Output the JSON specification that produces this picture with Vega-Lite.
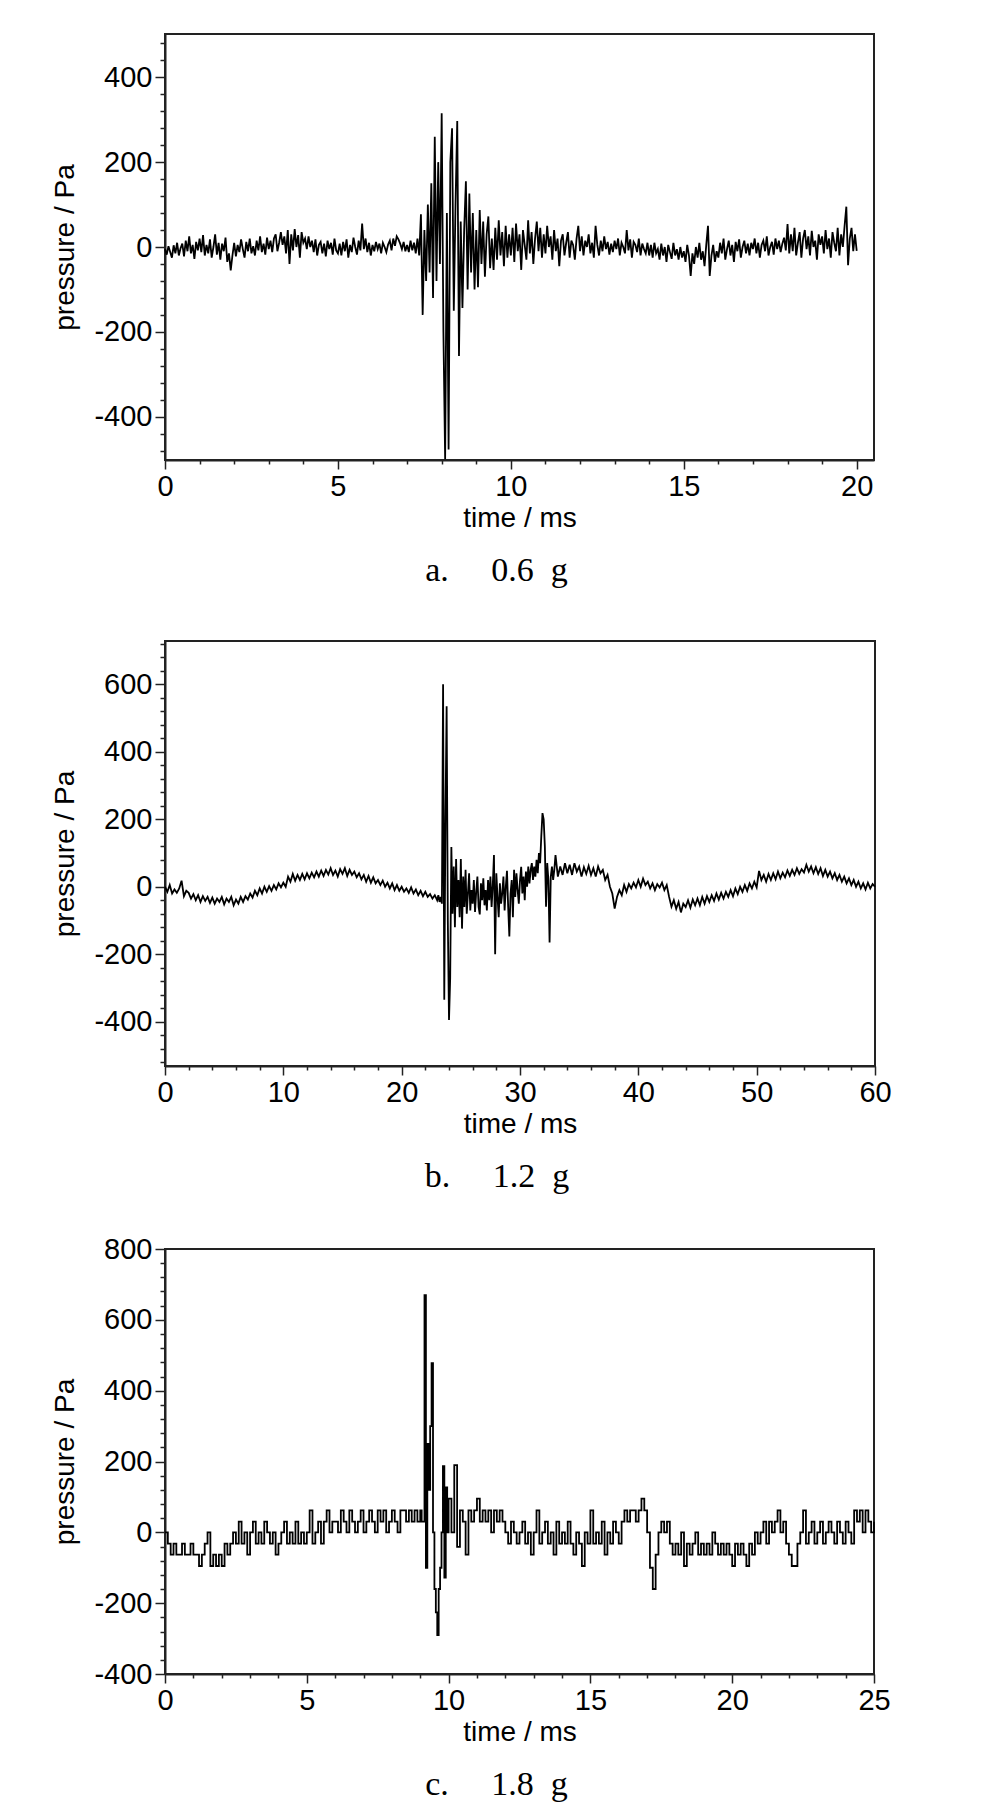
{
  "$schema": "https://vega.github.io/schema/vega-lite/v6.json",
  "background": "white",
  "padding": {"top": 28, "left": 50, "right": 10, "bottom": 10},
  "spacing": 39,
  "config": {
    "view": {"stroke": "#222", "strokeWidth": 2},
    "axis": {
      "grid": false,
      "domainColor": "#222",
      "domainWidth": 2,
      "tickColor": "#222",
      "tickWidth": 1.5,
      "labelFont": "Liberation Sans",
      "labelFontSize": 29,
      "labelColor": "black",
      "labelPadding": 3,
      "labelOverlap": false,
      "labelFlush": false,
      "labelBound": false,
      "titleFont": "Liberation Sans",
      "titleFontSize": 28,
      "titleFontWeight": "normal",
      "titleColor": "black"
    },
    "axisX": {"titlePadding": 3},
    "axisY": {"titlePadding": 14},
    "title": {
      "orient": "bottom",
      "frame": "group",
      "font": "Liberation Serif",
      "fontSize": 34,
      "fontWeight": "normal",
      "color": "black",
      "offset": 22,
      "dx": -23
    },
    "line": {"color": "black", "strokeWidth": 1.8, "clip": true}
  },
  "datasets": {
    "a": [
      {"t":0,"p":-5},{"t":0.05,"p":-18},{"t":0.1,"p":2},{"t":0.15,"p":-12},{"t":0.2,"p":-25},{"t":0.25,"p":4},{"t":0.3,"p":-15},{"t":0.35,"p":10},{"t":0.4,"p":-20},{"t":0.45,"p":-3},{"t":0.5,"p":8},{"t":0.55,"p":-22},{"t":0.6,"p":15},{"t":0.65,"p":-10},{"t":0.7,"p":25},{"t":0.75,"p":-15},{"t":0.8,"p":5},{"t":0.85,"p":-28},{"t":0.9,"p":12},{"t":0.95,"p":-8},
      {"t":1,"p":20},{"t":1.05,"p":-12},{"t":1.1,"p":28},{"t":1.15,"p":-20},{"t":1.2,"p":5},{"t":1.25,"p":-15},{"t":1.3,"p":18},{"t":1.35,"p":-25},{"t":1.4,"p":0},{"t":1.45,"p":30},{"t":1.5,"p":-18},{"t":1.55,"p":10},{"t":1.6,"p":-30},{"t":1.65,"p":8},{"t":1.7,"p":-10},{"t":1.75,"p":22},{"t":1.8,"p":-35},{"t":1.85,"p":-15},{"t":1.9,"p":-55},{"t":1.95,"p":-20},
      {"t":2,"p":10},{"t":2.05,"p":-22},{"t":2.1,"p":5},{"t":2.15,"p":-12},{"t":2.2,"p":18},{"t":2.25,"p":-5},{"t":2.3,"p":-25},{"t":2.35,"p":12},{"t":2.4,"p":-10},{"t":2.45,"p":20},{"t":2.5,"p":-15},{"t":2.55,"p":2},{"t":2.6,"p":-20},{"t":2.65,"p":15},{"t":2.7,"p":-8},{"t":2.75,"p":25},{"t":2.8,"p":-12},{"t":2.85,"p":8},{"t":2.9,"p":-18},{"t":2.95,"p":22},
      {"t":3,"p":-5},{"t":3.05,"p":15},{"t":3.1,"p":-12},{"t":3.15,"p":20},{"t":3.2,"p":30},{"t":3.25,"p":-10},{"t":3.3,"p":10},{"t":3.35,"p":35},{"t":3.4,"p":5},{"t":3.45,"p":25},{"t":3.5,"p":-15},{"t":3.55,"p":40},{"t":3.6,"p":-40},{"t":3.65,"p":30},{"t":3.7,"p":-8},{"t":3.75,"p":42},{"t":3.8,"p":0},{"t":3.85,"p":28},{"t":3.9,"p":-25},{"t":3.95,"p":35},
      {"t":4,"p":10},{"t":4.05,"p":20},{"t":4.1,"p":-5},{"t":4.15,"p":25},{"t":4.2,"p":0},{"t":4.25,"p":15},{"t":4.3,"p":-12},{"t":4.35,"p":18},{"t":4.4,"p":-20},{"t":4.45,"p":5},{"t":4.5,"p":12},{"t":4.55,"p":-15},{"t":4.6,"p":8},{"t":4.65,"p":-22},{"t":4.7,"p":15},{"t":4.75,"p":-5},{"t":4.8,"p":10},{"t":4.85,"p":-18},{"t":4.9,"p":20},{"t":4.95,"p":-8},
      {"t":5,"p":-15},{"t":5.05,"p":8},{"t":5.1,"p":-20},{"t":5.15,"p":12},{"t":5.2,"p":-10},{"t":5.25,"p":18},{"t":5.3,"p":-25},{"t":5.35,"p":5},{"t":5.4,"p":-12},{"t":5.45,"p":22},{"t":5.5,"p":0},{"t":5.55,"p":-18},{"t":5.6,"p":15},{"t":5.65,"p":-8},{"t":5.7,"p":55},{"t":5.75,"p":-5},{"t":5.8,"p":20},{"t":5.85,"p":-12},{"t":5.9,"p":10},{"t":5.95,"p":-20},
      {"t":6,"p":5},{"t":6.05,"p":-10},{"t":6.1,"p":12},{"t":6.15,"p":-5},{"t":6.2,"p":8},{"t":6.25,"p":-15},{"t":6.3,"p":10},{"t":6.35,"p":0},{"t":6.4,"p":-12},{"t":6.45,"p":6},{"t":6.5,"p":15},{"t":6.55,"p":-8},{"t":6.6,"p":20},{"t":6.65,"p":3},{"t":6.7,"p":25},{"t":6.75,"p":18},{"t":6.8,"p":8},{"t":6.85,"p":-5},{"t":6.9,"p":12},{"t":6.95,"p":-10},
      {"t":7,"p":5},{"t":7.05,"p":-12},{"t":7.1,"p":15},{"t":7.15,"p":-8},{"t":7.2,"p":10},{"t":7.25,"p":-15},{"t":7.3,"p":20},{"t":7.35,"p":-20},{"t":7.4,"p":77},{"t":7.45,"p":-160},{"t":7.5,"p":40},{"t":7.55,"p":-80},{"t":7.6,"p":100},{"t":7.65,"p":-60},{"t":7.7,"p":150},{"t":7.75,"p":-120},{"t":7.8,"p":260},{"t":7.85,"p":-80},{"t":7.9,"p":200},{"t":7.95,"p":-40},
      {"t":8,"p":315},{"t":8.05,"p":-200},{"t":8.1,"p":-500},{"t":8.15,"p":80},{"t":8.2,"p":-477},{"t":8.25,"p":200},{"t":8.3,"p":280},{"t":8.35,"p":-150},{"t":8.4,"p":100},{"t":8.45,"p":297},{"t":8.5,"p":-257},{"t":8.55,"p":60},{"t":8.6,"p":-144},{"t":8.65,"p":40},{"t":8.7,"p":155},{"t":8.75,"p":-100},{"t":8.8,"p":126},{"t":8.85,"p":-60},{"t":8.9,"p":80},{"t":8.95,"p":-100},
      {"t":9,"p":40},{"t":9.05,"p":-95},{"t":9.1,"p":87},{"t":9.15,"p":-40},{"t":9.2,"p":60},{"t":9.25,"p":-70},{"t":9.3,"p":30},{"t":9.35,"p":72},{"t":9.4,"p":-50},{"t":9.45,"p":20},{"t":9.5,"p":-54},{"t":9.55,"p":45},{"t":9.6,"p":-30},{"t":9.65,"p":63},{"t":9.7,"p":-20},{"t":9.75,"p":35},{"t":9.8,"p":-45},{"t":9.85,"p":50},{"t":9.9,"p":-25},{"t":9.95,"p":30},
      {"t":10,"p":-20},{"t":10.05,"p":45},{"t":10.1,"p":-35},{"t":10.15,"p":55},{"t":10.2,"p":-10},{"t":10.25,"p":30},{"t":10.3,"p":-54},{"t":10.35,"p":40},{"t":10.4,"p":5},{"t":10.45,"p":-30},{"t":10.5,"p":63},{"t":10.55,"p":-15},{"t":10.6,"p":35},{"t":10.65,"p":-40},{"t":10.7,"p":20},{"t":10.75,"p":60},{"t":10.8,"p":-10},{"t":10.85,"p":45},{"t":10.9,"p":-25},{"t":10.95,"p":30},
      {"t":11,"p":-15},{"t":11.05,"p":50},{"t":11.1,"p":0},{"t":11.15,"p":25},{"t":11.2,"p":-30},{"t":11.25,"p":40},{"t":11.3,"p":-10},{"t":11.35,"p":20},{"t":11.4,"p":-45},{"t":11.45,"p":15},{"t":11.5,"p":30},{"t":11.55,"p":-20},{"t":11.6,"p":10},{"t":11.65,"p":35},{"t":11.7,"p":-25},{"t":11.75,"p":15},{"t":11.8,"p":5},{"t":11.85,"p":-30},{"t":11.9,"p":20},{"t":11.95,"p":50},
      {"t":12,"p":-10},{"t":12.05,"p":25},{"t":12.1,"p":-20},{"t":12.15,"p":15},{"t":12.2,"p":0},{"t":12.25,"p":30},{"t":12.3,"p":-15},{"t":12.35,"p":10},{"t":12.4,"p":-25},{"t":12.45,"p":50},{"t":12.5,"p":5},{"t":12.55,"p":-20},{"t":12.6,"p":15},{"t":12.65,"p":-10},{"t":12.7,"p":25},{"t":12.75,"p":-5},{"t":12.8,"p":12},{"t":12.85,"p":-18},{"t":12.9,"p":8},{"t":12.95,"p":-12},
      {"t":13,"p":15},{"t":13.05,"p":-5},{"t":13.1,"p":20},{"t":13.15,"p":-20},{"t":13.2,"p":10},{"t":13.25,"p":0},{"t":13.3,"p":-15},{"t":13.35,"p":40},{"t":13.4,"p":-8},{"t":13.45,"p":18},{"t":13.5,"p":-25},{"t":13.55,"p":12},{"t":13.6,"p":5},{"t":13.65,"p":-12},{"t":13.7,"p":20},{"t":13.75,"p":-20},{"t":13.8,"p":8},{"t":13.85,"p":-5},{"t":13.9,"p":-15},{"t":13.95,"p":10},
      {"t":14,"p":-20},{"t":14.05,"p":5},{"t":14.1,"p":-25},{"t":14.15,"p":10},{"t":14.2,"p":-15},{"t":14.25,"p":-5},{"t":14.3,"p":-30},{"t":14.35,"p":8},{"t":14.4,"p":-20},{"t":14.45,"p":0},{"t":14.5,"p":-35},{"t":14.55,"p":5},{"t":14.6,"p":-12},{"t":14.65,"p":-28},{"t":14.7,"p":10},{"t":14.75,"p":-20},{"t":14.8,"p":-5},{"t":14.85,"p":-30},{"t":14.9,"p":0},{"t":14.95,"p":-25},
      {"t":15,"p":-10},{"t":15.05,"p":-35},{"t":15.1,"p":5},{"t":15.15,"p":-20},{"t":15.2,"p":-68},{"t":15.25,"p":-15},{"t":15.3,"p":-40},{"t":15.35,"p":0},{"t":15.4,"p":-25},{"t":15.45,"p":10},{"t":15.5,"p":-30},{"t":15.55,"p":-10},{"t":15.6,"p":-45},{"t":15.65,"p":5},{"t":15.7,"p":50},{"t":15.75,"p":-68},{"t":15.8,"p":-20},{"t":15.85,"p":5},{"t":15.9,"p":-35},{"t":15.95,"p":-10},
      {"t":16,"p":-25},{"t":16.05,"p":10},{"t":16.1,"p":-15},{"t":16.15,"p":20},{"t":16.2,"p":-30},{"t":16.25,"p":-5},{"t":16.3,"p":15},{"t":16.35,"p":-20},{"t":16.4,"p":5},{"t":16.45,"p":-35},{"t":16.5,"p":12},{"t":16.55,"p":-10},{"t":16.6,"p":18},{"t":16.65,"p":-25},{"t":16.7,"p":0},{"t":16.75,"p":15},{"t":16.8,"p":-15},{"t":16.85,"p":8},{"t":16.9,"p":-20},{"t":16.95,"p":10},
      {"t":17,"p":-5},{"t":17.05,"p":20},{"t":17.1,"p":-15},{"t":17.15,"p":10},{"t":17.2,"p":-25},{"t":17.25,"p":5},{"t":17.3,"p":15},{"t":17.35,"p":-10},{"t":17.4,"p":25},{"t":17.45,"p":-20},{"t":17.5,"p":0},{"t":17.55,"p":12},{"t":17.6,"p":-18},{"t":17.65,"p":20},{"t":17.7,"p":-5},{"t":17.75,"p":15},{"t":17.8,"p":-12},{"t":17.85,"p":8},{"t":17.9,"p":22},{"t":17.95,"p":-8},
      {"t":18,"p":54},{"t":18.05,"p":-15},{"t":18.1,"p":30},{"t":18.15,"p":-10},{"t":18.2,"p":45},{"t":18.25,"p":-20},{"t":18.3,"p":10},{"t":18.35,"p":35},{"t":18.4,"p":-25},{"t":18.45,"p":20},{"t":18.5,"p":40},{"t":18.55,"p":-5},{"t":18.6,"p":25},{"t":18.65,"p":-20},{"t":18.7,"p":38},{"t":18.75,"p":0},{"t":18.8,"p":15},{"t":18.85,"p":-30},{"t":18.9,"p":30},{"t":18.95,"p":5},
      {"t":19,"p":25},{"t":19.05,"p":-15},{"t":19.1,"p":40},{"t":19.15,"p":-5},{"t":19.2,"p":20},{"t":19.25,"p":-25},{"t":19.3,"p":35},{"t":19.35,"p":10},{"t":19.4,"p":-10},{"t":19.45,"p":45},{"t":19.5,"p":-20},{"t":19.55,"p":30},{"t":19.6,"p":0},{"t":19.65,"p":50},{"t":19.7,"p":95},{"t":19.75,"p":-43},{"t":19.8,"p":20},{"t":19.85,"p":45},{"t":19.9,"p":-10},{"t":19.95,"p":30},{"t":20,"p":-9}
    ],
    "b": [
      {"t":0,"p":0},{"t":0.2,"p":-15},{"t":0.4,"p":5},{"t":0.6,"p":-20},{"t":0.8,"p":-8},
      {"t":1,"p":-18},{"t":1.2,"p":-5},{"t":1.4,"p":18},{"t":1.6,"p":-28},{"t":1.8,"p":-12},
      {"t":2,"p":-18},{"t":2.2,"p":-35},{"t":2.4,"p":-22},{"t":2.6,"p":-40},{"t":2.8,"p":-25},
      {"t":3,"p":-45},{"t":3.2,"p":-28},{"t":3.4,"p":-42},{"t":3.6,"p":-30},{"t":3.8,"p":-48},
      {"t":4,"p":-32},{"t":4.2,"p":-50},{"t":4.4,"p":-35},{"t":4.6,"p":-45},{"t":4.8,"p":-30},
      {"t":5,"p":-52},{"t":5.2,"p":-35},{"t":5.4,"p":-45},{"t":5.6,"p":-30},{"t":5.8,"p":-55},
      {"t":6,"p":-38},{"t":6.2,"p":-50},{"t":6.4,"p":-30},{"t":6.6,"p":-45},{"t":6.8,"p":-28},
      {"t":7,"p":-38},{"t":7.2,"p":-20},{"t":7.4,"p":-32},{"t":7.6,"p":-12},{"t":7.8,"p":-25},
      {"t":8,"p":-5},{"t":8.2,"p":-20},{"t":8.4,"p":0},{"t":8.6,"p":-15},{"t":8.8,"p":2},
      {"t":9,"p":-12},{"t":9.2,"p":5},{"t":9.4,"p":-8},{"t":9.6,"p":10},{"t":9.8,"p":-2},
      {"t":10,"p":12},{"t":10.2,"p":0},{"t":10.4,"p":30},{"t":10.6,"p":15},{"t":10.8,"p":38},
      {"t":11,"p":18},{"t":11.2,"p":35},{"t":11.4,"p":20},{"t":11.6,"p":38},{"t":11.8,"p":22},
      {"t":12,"p":40},{"t":12.2,"p":25},{"t":12.4,"p":42},{"t":12.6,"p":28},{"t":12.8,"p":45},
      {"t":13,"p":30},{"t":13.2,"p":48},{"t":13.4,"p":32},{"t":13.6,"p":50},{"t":13.8,"p":36},
      {"t":14,"p":55},{"t":14.2,"p":35},{"t":14.4,"p":48},{"t":14.6,"p":30},{"t":14.8,"p":52},
      {"t":15,"p":38},{"t":15.2,"p":55},{"t":15.4,"p":32},{"t":15.6,"p":50},{"t":15.8,"p":35},
      {"t":16,"p":45},{"t":16.2,"p":28},{"t":16.4,"p":40},{"t":16.6,"p":22},{"t":16.8,"p":35},
      {"t":17,"p":15},{"t":17.2,"p":32},{"t":17.4,"p":12},{"t":17.6,"p":28},{"t":17.8,"p":10},
      {"t":18,"p":20},{"t":18.2,"p":5},{"t":18.4,"p":18},{"t":18.6,"p":0},{"t":18.8,"p":12},
      {"t":19,"p":-5},{"t":19.2,"p":10},{"t":19.4,"p":-10},{"t":19.6,"p":5},{"t":19.8,"p":-12},
      {"t":20,"p":0},{"t":20.2,"p":-15},{"t":20.4,"p":-5},{"t":20.6,"p":-18},{"t":20.8,"p":-2},
      {"t":21,"p":-20},{"t":21.2,"p":-8},{"t":21.4,"p":-25},{"t":21.6,"p":-12},{"t":21.8,"p":-28},
      {"t":22,"p":-15},{"t":22.2,"p":-30},{"t":22.4,"p":-22},{"t":22.6,"p":-35},{"t":22.8,"p":-25},
      {"t":23,"p":-40},{"t":23.1,"p":-25},{"t":23.2,"p":-45},{"t":23.3,"p":-30},{"t":23.4,"p":-50},{"t":23.5,"p":600},{"t":23.6,"p":-335},{"t":23.7,"p":200},{"t":23.8,"p":535},{"t":23.9,"p":-100},
      {"t":24,"p":-395},{"t":24.1,"p":-270},{"t":24.2,"p":118},{"t":24.3,"p":-80},{"t":24.4,"p":60},{"t":24.5,"p":-120},{"t":24.6,"p":82},{"t":24.7,"p":-60},{"t":24.8,"p":20},{"t":24.9,"p":-90},
      {"t":25,"p":82},{"t":25.1,"p":-124},{"t":25.2,"p":30},{"t":25.3,"p":-60},{"t":25.4,"p":50},{"t":25.5,"p":-80},{"t":25.6,"p":-20},{"t":25.7,"p":40},{"t":25.8,"p":-70},{"t":25.9,"p":-10},
      {"t":26,"p":-50},{"t":26.1,"p":20},{"t":26.2,"p":-75},{"t":26.3,"p":-15},{"t":26.4,"p":30},{"t":26.5,"p":-60},{"t":26.6,"p":-82},{"t":26.7,"p":10},{"t":26.8,"p":-40},{"t":26.9,"p":25},
      {"t":27,"p":-55},{"t":27.1,"p":-10},{"t":27.2,"p":-70},{"t":27.3,"p":20},{"t":27.4,"p":-40},{"t":27.5,"p":30},{"t":27.6,"p":-60},{"t":27.7,"p":5},{"t":27.8,"p":94},{"t":27.9,"p":-200},
      {"t":28,"p":40},{"t":28.1,"p":-30},{"t":28.2,"p":-90},{"t":28.3,"p":10},{"t":28.4,"p":-50},{"t":28.5,"p":-20},{"t":28.6,"p":30},{"t":28.7,"p":-70},{"t":28.8,"p":0},{"t":28.9,"p":47},
      {"t":29,"p":-60},{"t":29.1,"p":-147},{"t":29.2,"p":-20},{"t":29.3,"p":20},{"t":29.4,"p":-90},{"t":29.5,"p":50},{"t":29.6,"p":-30},{"t":29.7,"p":40},{"t":29.8,"p":-10},{"t":29.9,"p":-50},
      {"t":30,"p":20},{"t":30.1,"p":59},{"t":30.2,"p":-20},{"t":30.3,"p":30},{"t":30.4,"p":-40},{"t":30.5,"p":45},{"t":30.6,"p":0},{"t":30.7,"p":60},{"t":30.8,"p":10},{"t":30.9,"p":50},
      {"t":31,"p":70},{"t":31.1,"p":20},{"t":31.2,"p":60},{"t":31.3,"p":30},{"t":31.4,"p":80},{"t":31.5,"p":40},{"t":31.6,"p":100},{"t":31.7,"p":70},{"t":31.8,"p":150},{"t":31.9,"p":218},
      {"t":32,"p":200},{"t":32.1,"p":120},{"t":32.2,"p":-59},{"t":32.3,"p":70},{"t":32.4,"p":20},{"t":32.5,"p":-165},{"t":32.6,"p":30},{"t":32.7,"p":60},{"t":32.8,"p":20},{"t":32.9,"p":50},
      {"t":33,"p":94},{"t":33.2,"p":30},{"t":33.4,"p":60},{"t":33.6,"p":35},{"t":33.8,"p":70},
      {"t":34,"p":40},{"t":34.2,"p":65},{"t":34.4,"p":35},{"t":34.6,"p":70},{"t":34.8,"p":45},
      {"t":35,"p":60},{"t":35.2,"p":30},{"t":35.4,"p":58},{"t":35.6,"p":38},{"t":35.8,"p":62},
      {"t":36,"p":35},{"t":36.2,"p":55},{"t":36.4,"p":30},{"t":36.6,"p":60},{"t":36.8,"p":40},
      {"t":37,"p":50},{"t":37.2,"p":20},{"t":37.4,"p":35},{"t":37.6,"p":0},{"t":37.8,"p":-20},
      {"t":38,"p":-65},{"t":38.2,"p":-30},{"t":38.4,"p":-10},{"t":38.6,"p":-25},{"t":38.8,"p":5},
      {"t":39,"p":-15},{"t":39.2,"p":8},{"t":39.4,"p":-5},{"t":39.6,"p":12},{"t":39.8,"p":-2},
      {"t":40,"p":20},{"t":40.2,"p":0},{"t":40.4,"p":24},{"t":40.6,"p":5},{"t":40.8,"p":15},
      {"t":41,"p":-5},{"t":41.2,"p":10},{"t":41.4,"p":-10},{"t":41.6,"p":8},{"t":41.8,"p":-2},
      {"t":42,"p":12},{"t":42.2,"p":-10},{"t":42.4,"p":5},{"t":42.6,"p":-30},{"t":42.8,"p":-59},
      {"t":43,"p":-40},{"t":43.2,"p":-65},{"t":43.4,"p":-45},{"t":43.6,"p":-76},{"t":43.8,"p":-50},
      {"t":44,"p":-60},{"t":44.2,"p":-40},{"t":44.4,"p":-62},{"t":44.6,"p":-38},{"t":44.8,"p":-55},
      {"t":45,"p":-35},{"t":45.2,"p":-55},{"t":45.4,"p":-30},{"t":45.6,"p":-50},{"t":45.8,"p":-28},
      {"t":46,"p":-45},{"t":46.2,"p":-25},{"t":46.4,"p":-42},{"t":46.6,"p":-20},{"t":46.8,"p":-38},
      {"t":47,"p":-18},{"t":47.2,"p":-35},{"t":47.4,"p":-15},{"t":47.6,"p":-30},{"t":47.8,"p":-10},
      {"t":48,"p":-28},{"t":48.2,"p":-5},{"t":48.4,"p":-22},{"t":48.6,"p":0},{"t":48.8,"p":-15},
      {"t":49,"p":5},{"t":49.2,"p":-12},{"t":49.4,"p":10},{"t":49.6,"p":-5},{"t":49.8,"p":15},
      {"t":50,"p":-2},{"t":50.2,"p":47},{"t":50.4,"p":20},{"t":50.6,"p":35},{"t":50.8,"p":15},
      {"t":51,"p":38},{"t":51.2,"p":20},{"t":51.4,"p":40},{"t":51.6,"p":22},{"t":51.8,"p":45},
      {"t":52,"p":25},{"t":52.2,"p":42},{"t":52.4,"p":28},{"t":52.6,"p":48},{"t":52.8,"p":32},
      {"t":53,"p":50},{"t":53.2,"p":35},{"t":53.4,"p":55},{"t":53.6,"p":38},{"t":53.8,"p":52},
      {"t":54,"p":42},{"t":54.2,"p":65},{"t":54.4,"p":45},{"t":54.6,"p":60},{"t":54.8,"p":40},
      {"t":55,"p":58},{"t":55.2,"p":38},{"t":55.4,"p":55},{"t":55.6,"p":32},{"t":55.8,"p":50},
      {"t":56,"p":30},{"t":56.2,"p":45},{"t":56.4,"p":25},{"t":56.6,"p":40},{"t":56.8,"p":20},
      {"t":57,"p":35},{"t":57.2,"p":15},{"t":57.4,"p":30},{"t":57.6,"p":10},{"t":57.8,"p":25},
      {"t":58,"p":5},{"t":58.2,"p":20},{"t":58.4,"p":0},{"t":58.6,"p":15},{"t":58.8,"p":-5},
      {"t":59,"p":10},{"t":59.2,"p":-8},{"t":59.4,"p":12},{"t":59.6,"p":-5},{"t":59.8,"p":8},
      {"t":60,"p":0}
    ],
    "c": [
      {"t":0,"p":0},{"t":0.1,"p":-32},{"t":0.2,"p":-63},{"t":0.3,"p":-32},{"t":0.4,"p":-63},{"t":0.5,"p":-63},{"t":0.6,"p":-32},{"t":0.7,"p":-63},{"t":0.8,"p":-63},{"t":0.9,"p":-32},
      {"t":1,"p":-63},{"t":1.1,"p":-63},{"t":1.2,"p":-95},{"t":1.3,"p":-63},{"t":1.4,"p":-32},{"t":1.5,"p":0},{"t":1.6,"p":-95},{"t":1.7,"p":-63},{"t":1.8,"p":-95},{"t":1.9,"p":-63},
      {"t":2,"p":-95},{"t":2.1,"p":-32},{"t":2.2,"p":-63},{"t":2.3,"p":-32},{"t":2.4,"p":0},{"t":2.5,"p":-32},{"t":2.6,"p":30},{"t":2.7,"p":-32},{"t":2.8,"p":0},{"t":2.9,"p":-63},
      {"t":3,"p":0},{"t":3.1,"p":30},{"t":3.2,"p":-32},{"t":3.3,"p":0},{"t":3.4,"p":-32},{"t":3.5,"p":30},{"t":3.6,"p":0},{"t":3.7,"p":-32},{"t":3.8,"p":0},{"t":3.9,"p":-63},
      {"t":4,"p":-32},{"t":4.1,"p":0},{"t":4.2,"p":30},{"t":4.3,"p":-32},{"t":4.4,"p":0},{"t":4.5,"p":-32},{"t":4.6,"p":30},{"t":4.7,"p":-32},{"t":4.8,"p":0},{"t":4.9,"p":-32},
      {"t":5,"p":0},{"t":5.1,"p":62},{"t":5.2,"p":-32},{"t":5.3,"p":0},{"t":5.4,"p":30},{"t":5.5,"p":-32},{"t":5.6,"p":30},{"t":5.7,"p":62},{"t":5.8,"p":0},{"t":5.9,"p":30},
      {"t":6,"p":30},{"t":6.1,"p":0},{"t":6.2,"p":62},{"t":6.3,"p":30},{"t":6.4,"p":0},{"t":6.5,"p":62},{"t":6.6,"p":30},{"t":6.7,"p":0},{"t":6.8,"p":30},{"t":6.9,"p":62},
      {"t":7,"p":0},{"t":7.1,"p":30},{"t":7.2,"p":62},{"t":7.3,"p":30},{"t":7.4,"p":0},{"t":7.5,"p":62},{"t":7.6,"p":30},{"t":7.7,"p":62},{"t":7.8,"p":0},{"t":7.9,"p":30},
      {"t":8,"p":62},{"t":8.1,"p":30},{"t":8.2,"p":0},{"t":8.3,"p":62},{"t":8.4,"p":62},{"t":8.5,"p":30},{"t":8.6,"p":62},{"t":8.7,"p":30},{"t":8.8,"p":62},{"t":8.9,"p":30},
      {"t":9,"p":62},{"t":9.05,"p":30},{"t":9.1,"p":30},{"t":9.15,"p":670},{"t":9.2,"p":-100},{"t":9.25,"p":250},{"t":9.3,"p":120},{"t":9.35,"p":300},{"t":9.4,"p":478},{"t":9.45,"p":0},
      {"t":9.5,"p":-160},{"t":9.55,"p":-226},{"t":9.6,"p":-290},{"t":9.65,"p":-160},{"t":9.7,"p":-100},{"t":9.75,"p":0},{"t":9.8,"p":187},{"t":9.85,"p":-128},{"t":9.9,"p":127},{"t":9.95,"p":0},
      {"t":10,"p":95},{"t":10.1,"p":0},{"t":10.2,"p":190},{"t":10.3,"p":-41},{"t":10.4,"p":62},{"t":10.5,"p":30},{"t":10.6,"p":-63},{"t":10.7,"p":62},{"t":10.8,"p":30},{"t":10.9,"p":62},
      {"t":11,"p":95},{"t":11.1,"p":30},{"t":11.2,"p":62},{"t":11.3,"p":30},{"t":11.4,"p":62},{"t":11.5,"p":0},{"t":11.6,"p":62},{"t":11.7,"p":30},{"t":11.8,"p":62},{"t":11.9,"p":30},
      {"t":12,"p":0},{"t":12.1,"p":-32},{"t":12.2,"p":30},{"t":12.3,"p":0},{"t":12.4,"p":-32},{"t":12.5,"p":0},{"t":12.6,"p":30},{"t":12.7,"p":-32},{"t":12.8,"p":0},{"t":12.9,"p":-63},
      {"t":13,"p":0},{"t":13.1,"p":62},{"t":13.2,"p":-32},{"t":13.3,"p":0},{"t":13.4,"p":30},{"t":13.5,"p":-32},{"t":13.6,"p":0},{"t":13.7,"p":-63},{"t":13.8,"p":30},{"t":13.9,"p":-32},
      {"t":14,"p":0},{"t":14.1,"p":-32},{"t":14.2,"p":30},{"t":14.3,"p":-32},{"t":14.4,"p":-63},{"t":14.5,"p":0},{"t":14.6,"p":-32},{"t":14.7,"p":-95},{"t":14.8,"p":0},{"t":14.9,"p":-32},
      {"t":15,"p":62},{"t":15.1,"p":-32},{"t":15.2,"p":0},{"t":15.3,"p":-32},{"t":15.4,"p":30},{"t":15.5,"p":-63},{"t":15.6,"p":0},{"t":15.7,"p":-32},{"t":15.8,"p":30},{"t":15.9,"p":0},
      {"t":16,"p":-32},{"t":16.1,"p":30},{"t":16.2,"p":62},{"t":16.3,"p":30},{"t":16.4,"p":62},{"t":16.5,"p":62},{"t":16.6,"p":30},{"t":16.7,"p":62},{"t":16.8,"p":95},{"t":16.9,"p":62},
      {"t":17,"p":0},{"t":17.1,"p":-100},{"t":17.2,"p":-160},{"t":17.3,"p":-63},{"t":17.4,"p":0},{"t":17.5,"p":30},{"t":17.6,"p":0},{"t":17.7,"p":30},{"t":17.8,"p":-32},{"t":17.9,"p":-63},
      {"t":18,"p":-32},{"t":18.1,"p":-63},{"t":18.2,"p":0},{"t":18.3,"p":-95},{"t":18.4,"p":-32},{"t":18.5,"p":-63},{"t":18.6,"p":-32},{"t":18.7,"p":0},{"t":18.8,"p":-63},{"t":18.9,"p":-32},
      {"t":19,"p":-63},{"t":19.1,"p":-32},{"t":19.2,"p":-63},{"t":19.3,"p":0},{"t":19.4,"p":-32},{"t":19.5,"p":-63},{"t":19.6,"p":-32},{"t":19.7,"p":-63},{"t":19.8,"p":-32},{"t":19.9,"p":-63},
      {"t":20,"p":-95},{"t":20.1,"p":-32},{"t":20.2,"p":-63},{"t":20.3,"p":-32},{"t":20.4,"p":-63},{"t":20.5,"p":-95},{"t":20.6,"p":-32},{"t":20.7,"p":-63},{"t":20.8,"p":0},{"t":20.9,"p":-32},
      {"t":21,"p":0},{"t":21.1,"p":30},{"t":21.2,"p":-32},{"t":21.3,"p":30},{"t":21.4,"p":0},{"t":21.5,"p":30},{"t":21.6,"p":62},{"t":21.7,"p":0},{"t":21.8,"p":30},{"t":21.9,"p":-32},
      {"t":22,"p":-63},{"t":22.1,"p":-95},{"t":22.2,"p":-95},{"t":22.3,"p":-32},{"t":22.4,"p":0},{"t":22.5,"p":62},{"t":22.6,"p":-32},{"t":22.7,"p":0},{"t":22.8,"p":30},{"t":22.9,"p":-32},
      {"t":23,"p":0},{"t":23.1,"p":30},{"t":23.2,"p":-32},{"t":23.3,"p":0},{"t":23.4,"p":30},{"t":23.5,"p":0},{"t":23.6,"p":-32},{"t":23.7,"p":30},{"t":23.8,"p":0},{"t":23.9,"p":-32},
      {"t":24,"p":30},{"t":24.1,"p":0},{"t":24.2,"p":-32},{"t":24.3,"p":62},{"t":24.4,"p":30},{"t":24.5,"p":62},{"t":24.6,"p":0},{"t":24.7,"p":62},{"t":24.8,"p":30},{"t":24.9,"p":0},
      {"t":25,"p":30}
    ]
  },
  "vconcat": [
    {
      "width": 709,
      "height": 426,
      "title": {"text": "a.\u00a0\u00a0\u00a0\u00a0\u00a00.6\u00a0\u00a0g"},
      "data": {"name": "a"},
      "mark": "line",
      "encoding": {
        "x": {
          "field": "t", "type": "quantitative",
          "scale": {"domain": [0, 20.5], "nice": false, "zero": false},
          "axis": {
            "title": "time / ms",
            "values": [0,1,2,3,4,5,6,7,8,9,10,11,12,13,14,15,16,17,18,19,20],
            "labelExpr": "datum.value % 5 === 0 ? '' + datum.value : ''",
            "tickSize": {"condition": {"test": "datum.value % 5 === 0", "value": 9}, "value": 4}
          }
        },
        "y": {
          "field": "p", "type": "quantitative",
          "scale": {"domain": [-502, 502], "nice": false, "zero": false},
          "axis": {
            "title": "pressure / Pa",
            "values": [-480,-440,-400,-360,-320,-280,-240,-200,-160,-120,-80,-40,0,40,80,120,160,200,240,280,320,360,400,440,480],
            "labelExpr": "datum.value % 200 === 0 ? '' + datum.value : ''",
            "tickSize": {"condition": {"test": "datum.value % 200 === 0", "value": 10}, "value": 5}
          }
        }
      }
    },
    {
      "width": 710,
      "height": 425,
      "title": {"text": "b.\u00a0\u00a0\u00a0\u00a0\u00a01.2\u00a0\u00a0g"},
      "data": {"name": "b"},
      "mark": "line",
      "encoding": {
        "x": {
          "field": "t", "type": "quantitative",
          "scale": {"domain": [0, 60], "nice": false, "zero": false},
          "axis": {
            "title": "time / ms",
            "values": [0,2,4,6,8,10,12,14,16,18,20,22,24,26,28,30,32,34,36,38,40,42,44,46,48,50,52,54,56,58,60],
            "labelExpr": "datum.value % 10 === 0 ? '' + datum.value : ''",
            "tickSize": {"condition": {"test": "datum.value % 10 === 0", "value": 9}, "value": 4}
          }
        },
        "y": {
          "field": "p", "type": "quantitative",
          "scale": {"domain": [-531, 728], "nice": false, "zero": false},
          "axis": {
            "title": "pressure / Pa",
            "values": [-520,-480,-440,-400,-360,-320,-280,-240,-200,-160,-120,-80,-40,0,40,80,120,160,200,240,280,320,360,400,440,480,520,560,600,640,680,720],
            "labelExpr": "datum.value % 200 === 0 ? '' + datum.value : ''",
            "tickSize": {"condition": {"test": "datum.value % 200 === 0", "value": 10}, "value": 5}
          }
        }
      }
    },
    {
      "width": 709,
      "height": 425,
      "title": {"text": "c.\u00a0\u00a0\u00a0\u00a0\u00a01.8\u00a0\u00a0g"},
      "data": {"name": "c"},
      "mark": {"type": "line", "interpolate": "step-after"},
      "encoding": {
        "x": {
          "field": "t", "type": "quantitative",
          "scale": {"domain": [0, 25], "nice": false, "zero": false},
          "axis": {
            "title": "time / ms",
            "values": [0,1,2,3,4,5,6,7,8,9,10,11,12,13,14,15,16,17,18,19,20,21,22,23,24,25],
            "labelExpr": "datum.value % 5 === 0 ? '' + datum.value : ''",
            "tickSize": {"condition": {"test": "datum.value % 5 === 0", "value": 9}, "value": 4}
          }
        },
        "y": {
          "field": "p", "type": "quantitative",
          "scale": {"domain": [-400, 800], "nice": false, "zero": false},
          "axis": {
            "title": "pressure / Pa",
            "values": [-400,-360,-320,-280,-240,-200,-160,-120,-80,-40,0,40,80,120,160,200,240,280,320,360,400,440,480,520,560,600,640,680,720,760,800],
            "labelExpr": "datum.value % 200 === 0 ? '' + datum.value : ''",
            "tickSize": {"condition": {"test": "datum.value % 200 === 0", "value": 10}, "value": 5}
          }
        }
      }
    }
  ]
}
